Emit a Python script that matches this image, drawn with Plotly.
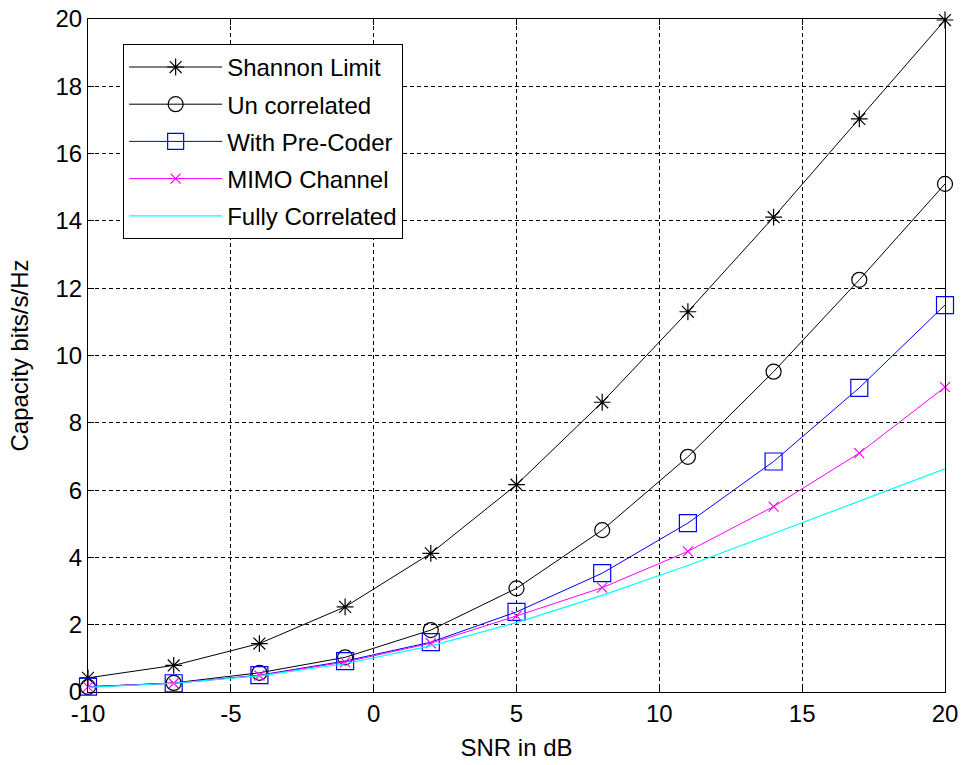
import plotly.graph_objects as go

snr_db = [-10, -7, -4, -1, 2, 5, 8, 11, 14, 17, 20]
shannon = [0.42, 0.79, 1.44, 2.53, 4.12, 6.16, 8.61, 11.30, 14.11, 17.03, 19.97]
uncorrelated = [0.15, 0.27, 0.57, 1.03, 1.84, 3.08, 4.81, 6.99, 9.52, 12.25, 15.1]
precoder = [0.16, 0.26, 0.50, 0.92, 1.48, 2.38, 3.53, 5.02, 6.85, 9.04, 11.5]
mimo = [0.15, 0.26, 0.49, 0.89, 1.45, 2.26, 3.10, 4.18, 5.51, 7.10, 9.06]
fully = [0.14, 0.26, 0.48, 0.84, 1.37, 2.06, 2.87, 3.76, 4.71, 5.68, 6.63]

x_ticks = [-10, -5, 0, 5, 10, 15, 20]
x_tick_labels = ["-10", "-5", "0", "5", "10", "15", "20"]
y_ticks = [0, 2, 4, 6, 8, 10, 12, 14, 16, 18, 20]
y_tick_labels = ["0", "2", "4", "6", "8", "10", "12", "14", "16", "18", "20"]

FONT = "Liberation Sans, Arial, sans-serif"
FS = 24

fig = go.Figure()
series = [
    ("Shannon Limit", shannon, "black", "asterisk-open", 14),
    ("Un correlated", uncorrelated, "black", "circle-open", 15),
    ("With Pre-Coder", precoder, "#0000ff", "square-open", 17),
    ("MIMO Channel", mimo, "#ff00ff", "x-thin-open", 10),
    ("Fully Correlated", fully, "#00ffff", None, 0),
]
for i, (name, ys, col, sym, sz) in enumerate(series):
    if sym:
        fig.add_trace(go.Scatter(
            x=snr_db, y=ys, name=name, mode="lines+markers",
            line=dict(color=col, width=1),
            marker=dict(symbol=sym, size=sz, color=col, line=dict(color=col, width=1.2)),
            legendgroup=str(i), cliponaxis=False,
        ))
    else:
        fig.add_trace(go.Scatter(
            x=snr_db, y=ys, name=name, mode="lines",
            line=dict(color=col, width=1.2),
            legendgroup=str(i), cliponaxis=False,
        ))

axis_common = dict(
    showline=True, linecolor="black", linewidth=1, mirror="allticks",
    ticks="inside", ticklen=6, tickcolor="black",
    showgrid=True, gridcolor="black", gridwidth=1, griddash="4px,3px",
    zeroline=False, ticklabeloverflow="allow", automargin=False,
    tickfont=dict(family=FONT, size=FS, color="black"),
)
fig.update_xaxes(range=[-10, 20], tickvals=x_ticks, ticktext=x_tick_labels,
                 title=dict(text="SNR in dB", font=dict(family=FONT, size=FS, color="black"), standoff=13),
                 **axis_common)
fig.update_yaxes(range=[0, 20], tickvals=y_ticks, ticktext=y_tick_labels,
                 title=dict(text="Capacity bits/s/Hz", font=dict(family=FONT, size=FS, color="black"), standoff=20),
                 **axis_common)

fig.update_layout(
    width=962, height=765,
    margin=dict(l=88, r=17, t=19, b=73, autoexpand=False),
    paper_bgcolor="white", plot_bgcolor="white",
    font=dict(family=FONT, size=FS, color="black"),
    legend=dict(
        x=0.041, y=0.963, xanchor="left", yanchor="top",
        bgcolor="white", bordercolor="black", borderwidth=1,
        font=dict(family=FONT, size=FS, color="black"),
        tracegroupgap=3, traceorder="grouped", itemwidth=93,
    ),
    showlegend=True,
)

fig.write_html("out.html", config={"displayModeBar": False},
               post_script="document.body.style.margin='0';document.body.style.overflow='hidden';")
